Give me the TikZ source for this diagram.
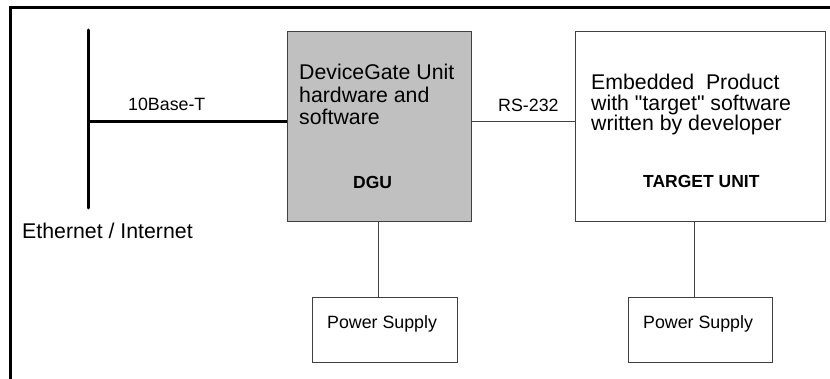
\documentclass[tikz,border=0pt]{standalone}
\usepackage{fontspec}
\setmainfont{Liberation Sans}[Ligatures=TeXOff]
\definecolor{boxgray}{HTML}{C0C0C0}
\definecolor{edgegray}{HTML}{404040}
\begin{document}
\begin{tikzpicture}[x=1pt,y=-1pt,
  unitbox/.style={draw=edgegray, line width=1pt, inner sep=0pt},
  bigtext/.style={font=\fontsize{21.3}{22.5}\selectfont, align=left, anchor=base west, inner sep=0pt},
  smalltext/.style={font=\fontsize{17.8}{20}\selectfont, anchor=base west, inner sep=0pt},
  boldtext/.style={font=\fontsize{17.5}{20}\selectfont\bfseries, anchor=base west, inner sep=0pt},
  thin/.style={draw=edgegray, line width=1pt},
  thick/.style={draw=black, line width=3pt}]
\useasboundingbox (0,0) rectangle (830,379);
% frame
\draw[line width=3pt] (10.5,379) -- (10.5,7.5) -- (830,7.5);
% boxes
\node[unitbox, fill=boxgray, minimum width=184pt, minimum height=190pt] (dgu) at (379,127) {};
\node[unitbox, fill=white, minimum width=250pt, minimum height=190pt] (tgt) at (700,127) {};
\node[unitbox, fill=white, minimum width=145pt, minimum height=64pt] (ps1) at (384.5,330) {};
\node[unitbox, fill=white, minimum width=144pt, minimum height=64pt] (ps2) at (700,330) {};
% texts (base anchor = baseline of the last line)
\node[bigtext] (dgutext) at (299,125) {DeviceGate Unit\\hardware and\\software};
\node[boldtext] (dgulabel) at (353,189) {DGU};
\node[bigtext, font=\fontsize{21.3}{20.8}\selectfont] (tgttext) at (591,131) {Embedded\ \ Product\\with "target" software\\written by developer};
\node[boldtext] (tgtlabel) at (643,188) {TARGET UNIT};
\node[smalltext] (ps1text) at (327,328) {Power Supply};
\node[smalltext] (ps2text) at (643,328) {Power Supply};
\node[smalltext] (basel) at (128,111) {10Base-T};
\node[smalltext] (rsl) at (498,112) {RS-232};
\node[bigtext] (ethl) at (22,239) {Ethernet / Internet};
% ethernet
\coordinate (etop) at (88,30);
\coordinate (ebot) at (88,208);
\coordinate (tap) at (88,122);
\draw[thick, line cap=round] (etop) -- (ebot);
\draw[thick] (tap) -- (tap -| dgu.west);
% rs-232
\draw[thin] (tap -| dgu.east) -- (tap -| tgt.west);
% power
\draw[thin] ([xshift=-1pt]dgu.south) -- ([xshift=-1pt]dgu.south |- ps1.north);
\draw[thin] ([xshift=-6pt]tgt.south) -- ([xshift=-6pt]tgt.south |- ps2.north);
\end{tikzpicture}
\end{document}
